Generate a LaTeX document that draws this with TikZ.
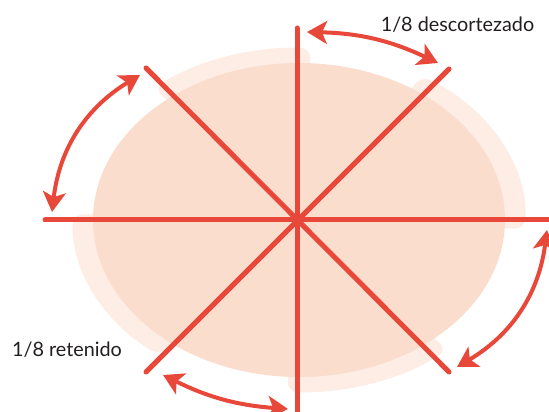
\documentclass[tikz,border=0pt]{standalone}
\usepackage{fontspec}
\setmainfont{Lato}
\usetikzlibrary{arrows.meta,calc}
\definecolor{cut}{RGB}{232,72,58}
\definecolor{wood}{RGB}{250,221,205}
\definecolor{bark}{RGB}{253,237,229}
\definecolor{ink}{RGB}{35,31,32}
\tikzset{
  barkpiece/.style={fill=bark, rounded corners=10pt},
  cutline/.style={draw=cut, line width=5pt, line cap=round},
  turn/.style={draw=cut, line width=4pt, {Stealth[length=20pt,width=23pt,inset=5pt]}-{Stealth[length=20pt,width=23pt,inset=5pt]}},
  lbl/.style={text=ink, font=\fontsize{19.8}{22}\selectfont, inner sep=0pt, anchor=base}
}
\begin{document}
\begin{tikzpicture}[x=1pt,y=1pt]
\useasboundingbox (0,0) rectangle (549,412);
\clip (0,0) rectangle (549,412);
\coordinate (c) at (297,192);
\coordinate (e) at (299,192);
% bark pieces (outer layer, alternate eighths)
\foreach \a/\b in {87/130, -3/57, -93/-49, 178/232}{
  \fill[barkpiece] (e) -- ($(e)+(\a:226 and 172)$) arc[start angle=\a, end angle=\b, x radius=226, y radius=172] -- cycle;
}
% wood
\fill[wood] (e) ellipse[x radius=206, y radius=157];
% cut lines
\coordinate (n) at (297,384);
\coordinate (s) at (297,-6);
\coordinate (w) at (45,192);
\coordinate (ee) at (556,192);
\coordinate (nw) at (146,344);
\coordinate (se) at (449,40);
\coordinate (ne) at (449,343);
\coordinate (sw) at (146,40);
\draw[cutline] (n) -- (s);
\draw[cutline] (w) -- (ee);
\draw[cutline] (nw) -- (se);
\draw[cutline] (ne) -- (sw);
% turning arrows
\coordinate (a1) at (307,380);
\coordinate (a2) at (438,349);
\coordinate (b1) at (140,337);
\coordinate (b2) at (52,200);
\coordinate (c1) at (547,182);
\coordinate (c2) at (457,45);
\coordinate (d1) at (163,37);
\coordinate (d2) at (288,3);
\draw[turn] (a1) to[bend left=12] (a2);
\draw[turn] (b1) to[bend right=26] (b2);
\draw[turn] (c1) to[bend left=26] (c2);
\draw[turn] (d1) to[bend right=11] (d2);
% labels
\node[lbl] (t1) at (457.5,380) {1/8 descortezado};
\node[lbl] (t2) at (67,55) {1/8 retenido};
\end{tikzpicture}
\end{document}
